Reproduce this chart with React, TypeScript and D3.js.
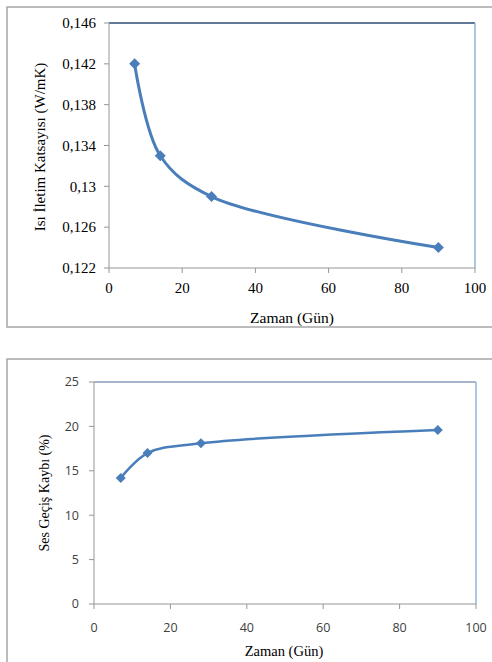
import React from "react";
import * as d3 from "d3";

const days = [7, 14, 28, 90];
const conductivity = [0.142, 0.133, 0.129, 0.124];
const soundLoss = [14.2, 17.0, 18.1, 19.6];

const xTicks = [0, 20, 40, 60, 80, 100];
const yTicks1 = [0.122, 0.126, 0.13, 0.134, 0.138, 0.142, 0.146];
const yTickLabels1 = ["0,122", "0,126", "0,13", "0,134", "0,138", "0,142", "0,146"];
const yTicks2 = [0, 5, 10, 15, 20, 25];

const xTitle = "Zaman (Gün)";
const yTitle1 = "Isı İletim Katsayısı (W/mK)";
const yTitle2 = "Ses Geçiş Kaybı (%)";

const LINE = "#4a7ebb";
const SERIF = "Liberation Serif, Tinos, DejaVu Serif, serif";
const SANS = "Open Sans, Liberation Sans, sans-serif";

function diamond(cx: number, cy: number, r: number) {
  return `M${cx},${cy - r}L${cx + r},${cy}L${cx},${cy + r}L${cx - r},${cy}Z`;
}

export default function App() {
  const x1 = d3.scaleLinear().domain([0, 100]).range([109, 475]);
  const y1 = d3.scaleLinear().domain([0.122, 0.146]).range([268, 23]);
  const line1 = d3
    .line<number>()
    .x((_, i) => x1(days[i]))
    .y((d) => y1(d))
    .curve(d3.curveCatmullRom.alpha(0.5));

  const x2 = d3.scaleLinear().domain([0, 100]).range([94, 476]);
  const y2 = d3.scaleLinear().domain([0, 25]).range([604, 382]);
  const line2 = d3
    .line<number>()
    .x((_, i) => x2(days[i]))
    .y((d) => y2(d))
    .curve(d3.curveCatmullRom.alpha(0.5));

  const serif = { fontFamily: SERIF };
  const sans = { fontFamily: SANS };

  return (
    <svg
      width={492}
      height={662}
      style={{ position: "absolute", left: 0, top: 0, background: "#fff" }}
    >
      <rect x={0} y={0} width={492} height={662} fill="#fff" />
      {/* Chart 1 */}
      <rect x={7} y={7} width={490} height={320} fill="none" stroke="#a6a6a6" strokeWidth={1.5} />
      <line x1={x1(0)} x2={x1(100)} y1={y1(0.146)} y2={y1(0.146)} stroke="#2c4d75" strokeWidth={1.5} />
      <line x1={x1(100)} x2={x1(100)} y1={y1(0.146)} y2={y1(0.122)} stroke="#95b3d7" strokeWidth={1.5} />
      <line x1={x1(0)} x2={x1(0)} y1={y1(0.146)} y2={y1(0.122)} stroke="#969696" strokeWidth={1} />
      <line x1={x1(0)} x2={x1(100)} y1={y1(0.122)} y2={y1(0.122)} stroke="#969696" strokeWidth={1} />
      {yTicks1.map((t, i) => (
        <g key={"y1" + i}>
          <line x1={x1(0) - 5} x2={x1(0)} y1={y1(t)} y2={y1(t)} stroke="#969696" />
          <text x={x1(0) - 13} y={y1(t)} dy="0.35em" textAnchor="end" style={serif} fontSize={15} fill="#000">
            {yTickLabels1[i]}
          </text>
        </g>
      ))}
      {xTicks.map((t) => (
        <g key={"x1" + t}>
          <line x1={x1(t)} x2={x1(t)} y1={y1(0.122)} y2={y1(0.122) + 5} stroke="#969696" />
          <text x={x1(t)} y={293} textAnchor="middle" style={serif} fontSize={15} fill="#000">
            {t}
          </text>
        </g>
      ))}
      <text x={292} y={323} textAnchor="middle" style={serif} fontSize={15.5} fill="#000">
        {xTitle}
      </text>
      <text
        transform={`translate(45,${147}) rotate(-90)`}
        textAnchor="middle"
        style={serif}
        fontSize={15}
        fill="#000"
      >
        {yTitle1}
      </text>
      <path d={line1(conductivity) || ""} fill="none" stroke={LINE} strokeWidth={3} />
      {conductivity.map((v, i) => (
        <path key={"m1" + i} d={diamond(x1(days[i]), y1(v), 5.5)} fill={LINE} />
      ))}

      {/* Chart 2 */}
      <rect x={7} y={359} width={490} height={320} fill="none" stroke="#a6a6a6" strokeWidth={1.5} />
      <line x1={x2(0)} x2={x2(100)} y1={y2(25)} y2={y2(25)} stroke="#4f6f96" strokeWidth={1} />
      <line x1={x2(100)} x2={x2(100)} y1={y2(25)} y2={y2(0)} stroke="#95b3d7" strokeWidth={1.5} />
      <line x1={x2(0)} x2={x2(0)} y1={y2(25)} y2={y2(0)} stroke="#969696" strokeWidth={1} />
      <line x1={x2(0)} x2={x2(100)} y1={y2(0)} y2={y2(0)} stroke="#969696" strokeWidth={1} />
      {yTicks2.map((t) => (
        <g key={"y2" + t}>
          <line x1={x2(0) - 5} x2={x2(0)} y1={y2(t)} y2={y2(t)} stroke="#969696" />
          <text x={x2(0) - 15} y={y2(t)} dy="0.35em" textAnchor="end" style={sans} fontSize={12.5} fill="#404040">
            {t}
          </text>
        </g>
      ))}
      {xTicks.map((t) => (
        <g key={"x2" + t}>
          <line x1={x2(t)} x2={x2(t)} y1={y2(0)} y2={y2(0) + 5} stroke="#969696" />
          <text x={x2(t)} y={632} textAnchor="middle" style={sans} fontSize={12.5} fill="#404040">
            {t}
          </text>
        </g>
      ))}
      <text x={284} y={656} textAnchor="middle" style={serif} fontSize={14.5} fill="#000">
        {xTitle}
      </text>
      <text
        transform={`translate(49,${493}) rotate(-90)`}
        textAnchor="middle"
        style={serif}
        fontSize={14}
        fill="#000"
      >
        {yTitle2}
      </text>
      <path d={line2(soundLoss) || ""} fill="none" stroke={LINE} strokeWidth={2.5} />
      {soundLoss.map((v, i) => (
        <path key={"m2" + i} d={diamond(x2(days[i]), y2(v), 5)} fill={LINE} />
      ))}
    </svg>
  );
}
